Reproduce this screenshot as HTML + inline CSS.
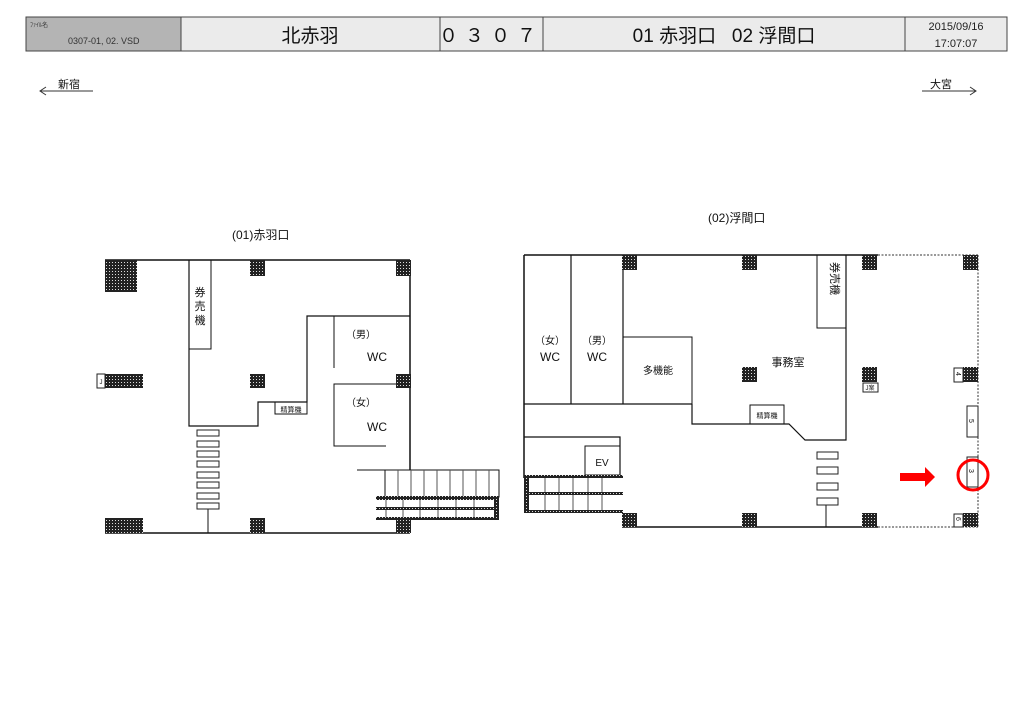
<!DOCTYPE html>
<html><head><meta charset="utf-8"><style>
html,body{margin:0;padding:0;background:#fff;}
svg{display:block;font-family:"Liberation Sans","Noto Sans CJK JP",sans-serif;}
</style></head><body>
<svg width="1024" height="724" viewBox="0 0 1024 724" xmlns="http://www.w3.org/2000/svg">
<defs>
<pattern id="h" width="3" height="3" patternUnits="userSpaceOnUse">
<rect width="3" height="3" fill="#222"/><rect x="1" y="1" width="1" height="1" fill="#ddd"/>
</pattern>
</defs>
<!-- header -->
<rect x="26" y="17" width="155" height="34" fill="#b4b4b4" stroke="#444"/>
<rect x="181" y="17" width="826" height="34" fill="#ebebeb" stroke="#444"/>
<line x1="440" y1="17" x2="440" y2="51" stroke="#444"/>
<line x1="543" y1="17" x2="543" y2="51" stroke="#444"/>
<line x1="905" y1="17" x2="905" y2="51" stroke="#444"/>
<text x="30" y="27" font-size="6" fill="#333">ﾌｧｲﾙ名</text>
<text x="68" y="44" font-size="9" fill="#333">0307-01, 02. VSD</text>
<text x="310" y="42" font-size="19" text-anchor="middle" fill="#111">北赤羽</text>
<text x="491" y="42" font-size="19" text-anchor="middle" fill="#111" letter-spacing="7">０３０７</text>
<text x="724" y="42" font-size="19" text-anchor="middle" fill="#111" xml:space="preserve">01 赤羽口   02 浮間口</text>
<text x="956" y="30" font-size="11" text-anchor="middle" fill="#222">2015/09/16</text>
<text x="956" y="47" font-size="11" text-anchor="middle" fill="#222">17:07:07</text>
<!-- direction -->
<text x="58" y="88" font-size="11" fill="#111">新宿</text>
<line x1="40" y1="91" x2="93" y2="91" stroke="#333"/>
<polyline points="46,87 40,91 46,95" fill="none" stroke="#333"/>
<text x="930" y="88" font-size="11" fill="#111">大宮</text>
<line x1="922" y1="91" x2="976" y2="91" stroke="#333"/>
<polyline points="970,87 976,91 970,95" fill="none" stroke="#333"/>
<text x="232" y="239" font-size="12" fill="#111">(01)赤羽口</text>
<text x="708" y="222" font-size="12" fill="#111">(02)浮間口</text>

<g stroke="#111" stroke-width="1.5" fill="none">
<!-- left plan -->
<line x1="105" y1="260" x2="410" y2="260"/>
<line x1="410" y1="260" x2="410" y2="470"/>
<line x1="105" y1="533" x2="410" y2="533"/>
<polyline points="189,260 189,426 258,426 258,402 307,402 307,316 410,316" stroke-width="1.2"/>
<rect x="189" y="260" width="22" height="89" stroke-width="1"/>
<rect x="275" y="402" width="32" height="12" stroke-width="1"/>
<line x1="334" y1="316" x2="334" y2="368" stroke-width="1"/>
<polyline points="396,384 334,384 334,446 386,446" stroke-width="1"/>
<line x1="208" y1="508" x2="208" y2="533" stroke-width="1"/>
<line x1="357" y1="470" x2="499" y2="470" stroke-width="1"/>
<rect x="385" y="470" width="114" height="27" stroke-width="1"/>
<!-- right plan -->
<line x1="524" y1="255" x2="878" y2="255"/>
<line x1="622" y1="527" x2="878" y2="527"/>
<line x1="524" y1="255" x2="524" y2="478"/>
<line x1="571" y1="255" x2="571" y2="404" stroke-width="1.2"/>
<line x1="623" y1="255" x2="623" y2="404" stroke-width="1.2"/>
<line x1="524" y1="404" x2="692" y2="404" stroke-width="1.2"/>
<rect x="623" y="337" width="69" height="67" stroke-width="1"/>
<polyline points="692,404 692,424 789,424 805,440 846,440 846,255" stroke-width="1.2"/>
<rect x="817" y="255" width="29" height="73" stroke-width="1"/>
<rect x="750" y="405" width="34" height="19" stroke-width="1"/>
<polyline points="524,437 620,437 620,475" stroke-width="1.2"/>
<rect x="585" y="446" width="35" height="29" stroke-width="1"/>
<line x1="826" y1="505" x2="826" y2="527" stroke-width="1"/>
</g>
<g stroke="#555" stroke-width="1" fill="none">
<line x1="398" y1="470" x2="398" y2="497"/><line x1="411" y1="470" x2="411" y2="497"/><line x1="424" y1="470" x2="424" y2="497"/><line x1="437" y1="470" x2="437" y2="497"/><line x1="450" y1="470" x2="450" y2="497"/><line x1="463" y1="470" x2="463" y2="497"/><line x1="476" y1="470" x2="476" y2="497"/><line x1="489" y1="470" x2="489" y2="497"/>
<line x1="386" y1="497" x2="386" y2="520"/><line x1="403" y1="497" x2="403" y2="520"/><line x1="420" y1="497" x2="420" y2="520"/><line x1="438" y1="497" x2="438" y2="520"/><line x1="456" y1="497" x2="456" y2="520"/><line x1="474" y1="497" x2="474" y2="520"/>
<line x1="545" y1="475" x2="545" y2="513"/><line x1="559" y1="475" x2="559" y2="513"/><line x1="573" y1="475" x2="573" y2="513"/><line x1="588" y1="475" x2="588" y2="513"/><line x1="602" y1="475" x2="602" y2="513"/>
</g>
<g stroke="#333" stroke-width="1" stroke-dasharray="2,1.5" fill="none">
<line x1="878" y1="255" x2="978" y2="255"/>
<line x1="878" y1="527" x2="978" y2="527"/>
<line x1="978" y1="255" x2="978" y2="527"/>
</g>
<!-- escalator hatches -->
<g fill="url(#h)">
<rect x="376" y="496" width="123" height="4"/><rect x="376" y="507" width="118" height="3"/><rect x="376" y="517" width="123" height="3"/><rect x="494" y="496" width="5" height="24"/>
<rect x="524" y="475" width="99" height="3"/><rect x="524" y="492" width="99" height="3"/><rect x="524" y="510" width="99" height="3"/><rect x="524" y="475" width="5" height="38"/>
<!-- pillars left -->
<rect x="105" y="260" width="32" height="32"/><rect x="250" y="260" width="15" height="16"/><rect x="396" y="260" width="15" height="16"/>
<rect x="105" y="374" width="38" height="14"/><rect x="250" y="374" width="15" height="14"/><rect x="396" y="374" width="15" height="14"/>
<rect x="105" y="518" width="38" height="15"/><rect x="250" y="518" width="15" height="15"/><rect x="396" y="518" width="15" height="15"/>
<!-- pillars right -->
<rect x="622" y="255" width="15" height="15"/><rect x="742" y="255" width="15" height="15"/><rect x="862" y="255" width="15" height="15"/><rect x="963" y="255" width="15" height="15"/>
<rect x="742" y="367" width="15" height="15"/><rect x="862" y="367" width="15" height="15"/><rect x="963" y="367" width="15" height="15"/>
<rect x="622" y="513" width="15" height="14"/><rect x="742" y="513" width="15" height="14"/><rect x="862" y="513" width="15" height="14"/><rect x="963" y="513" width="15" height="14"/>
</g>
<!-- stripes -->
<g fill="#fff" stroke="#222" stroke-width="1">
<rect x="197" y="430" width="22" height="6"/><rect x="197" y="441" width="22" height="6"/><rect x="197" y="451" width="22" height="6"/><rect x="197" y="461" width="22" height="6"/><rect x="197" y="472" width="22" height="6"/><rect x="197" y="482" width="22" height="6"/><rect x="197" y="493" width="22" height="6"/><rect x="197" y="503" width="22" height="6"/>
<rect x="817" y="452" width="21" height="7"/><rect x="817" y="467" width="21" height="7"/><rect x="817" y="483" width="21" height="7"/><rect x="817" y="498" width="21" height="7"/>
<rect x="97" y="374" width="8" height="14"/>
<rect x="863" y="383" width="15" height="9"/>
<rect x="954" y="368" width="9" height="14"/>
<rect x="967" y="406" width="11" height="31"/>
<rect x="967" y="457" width="11" height="30"/>
<rect x="954" y="514" width="9" height="13"/>
</g>
<!-- labels -->
<g fill="#111">
<text x="200" y="296" font-size="11" text-anchor="middle">券</text>
<text x="200" y="310" font-size="11" text-anchor="middle">売</text>
<text x="200" y="324" font-size="11" text-anchor="middle">機</text>
<text x="291" y="412" font-size="7" text-anchor="middle">精算機</text>
<text x="361" y="338" font-size="10" text-anchor="middle">（男）</text>
<text x="377" y="361" font-size="12" text-anchor="middle">WC</text>
<text x="361" y="406" font-size="10" text-anchor="middle">（女）</text>
<text x="377" y="431" font-size="12" text-anchor="middle">WC</text>
<text x="550" y="344" font-size="10" text-anchor="middle">（女）</text>
<text x="550" y="361" font-size="12" text-anchor="middle">WC</text>
<text x="597" y="344" font-size="10" text-anchor="middle">（男）</text>
<text x="597" y="361" font-size="12" text-anchor="middle">WC</text>
<text x="658" y="374" font-size="10" text-anchor="middle">多機能</text>
<text x="788" y="366" font-size="11" text-anchor="middle">事務室</text>
<text x="767" y="418" font-size="7" text-anchor="middle">精算機</text>
<text x="602" y="466" font-size="10" text-anchor="middle">EV</text>
<text x="870" y="390" font-size="6" text-anchor="middle">J案</text>
<text x="101" y="384" font-size="6" text-anchor="middle">J</text>
<g transform="translate(831,262) rotate(90)"><text x="0" y="0" font-size="11">券売機</text></g>
<g transform="translate(956,372) rotate(90)"><text font-size="7">4</text></g>
<g transform="translate(969,419) rotate(90)"><text font-size="7">5</text></g>
<g transform="translate(969,469) rotate(90)"><text font-size="7">3</text></g>
<g transform="translate(956,517) rotate(90)"><text font-size="7">6</text></g>
</g>
<!-- red marker -->
<polygon points="900,473 925,473 925,467 935,477 925,487 925,481 900,481" fill="#f00"/>
<circle cx="973" cy="475" r="15" fill="none" stroke="#f00" stroke-width="3"/>
</svg>
</body></html>
